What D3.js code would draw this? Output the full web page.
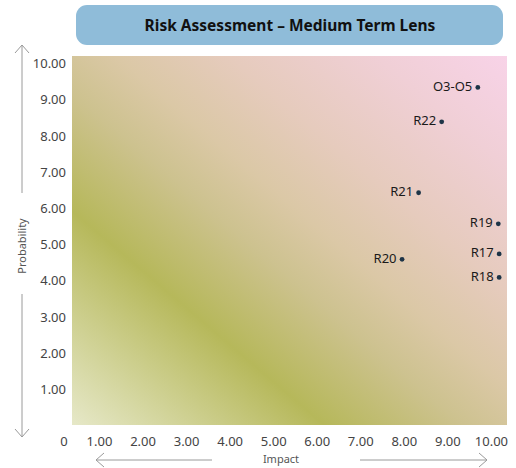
<!DOCTYPE html>
<html><head><meta charset="utf-8">
<script src="https://cdn.jsdelivr.net/npm/d3@7/dist/d3.min.js"></script>
<style>body{margin:0;background:#fff}svg{display:block}</style>
</head><body>
<script>
const labels = ["O3-O5","R22","R21","R19","R17","R18","R20"];
const impact = [9.70, 8.87, 8.34, 10.17, 10.19, 10.19, 7.96];
const probability = [9.33, 8.38, 6.42, 5.56, 4.73, 4.08, 4.58];
const tickValues = [1,2,3,4,5,6,7,8,9,10];
const title = "Risk Assessment \u2013 Medium Term Lens";

const W = 516, H = 468;
const svg = d3.select("body").append("svg").attr("width", W).attr("height", H);
const font = "'Noto Sans', 'Open Sans', sans-serif";
const L = 72, R = 507, T = 56, B = 425;

const x = d3.scaleLinear().domain([0.38, 10.37]).range([L, R]);
const y = d3.scaleLinear().domain([0, 10.2]).range([B, T]);

const defs = svg.append("defs");
const g = defs.append("linearGradient").attr("id","bg")
  .attr("x1",0).attr("y1",1).attr("x2",1).attr("y2",0);
[[0,"#e6e8c8"],[0.29,"#b6b85a"],[0.45,"#cdc28f"],[0.55,"#dbc8a6"],[0.68,"#e6cbbd"],[0.85,"#f0cfd6"],[1,"#f8d3e8"]]
  .forEach(([o,c]) => g.append("stop").attr("offset",o).attr("stop-color",c));

// title box
svg.append("rect").attr("x",76).attr("y",5).attr("width",427).attr("height",40)
  .attr("rx",11).attr("fill","#8fbcd9");
svg.append("text").attr("x",290).attr("y",31).attr("text-anchor","middle")
  .attr("font-family",font).attr("font-weight","bold").attr("font-size",15.5)
  .attr("fill","#111").text(title);

// plot background
svg.append("rect").attr("x",L).attr("y",T).attr("width",R-L).attr("height",B-T)
  .attr("fill","url(#bg)");

// axes
const xAxis = d3.axisBottom(x).tickValues(tickValues).tickFormat(d3.format(".2f")).tickSize(0).tickPadding(0);
const xg = svg.append("g").attr("transform",`translate(0,${B+21})`).call(xAxis);
xg.select(".domain").remove();
xg.selectAll("text").attr("font-family",font).attr("font-size",13).attr("fill","#444").attr("dy",0);

const yAxis = d3.axisLeft(y).tickValues(tickValues).tickFormat(d3.format(".2f")).tickSize(0).tickPadding(0);
const yg = svg.append("g").attr("transform",`translate(66,0)`).call(yAxis);
yg.select(".domain").remove();
yg.selectAll("text").attr("font-family",font).attr("font-size",13).attr("fill","#444").attr("dy","0.35em");

svg.append("text").attr("x",64).attr("y",446).attr("text-anchor","middle")
  .attr("font-family",font).attr("font-size",13).attr("fill","#444").text("0");

// arrows
const ac = "#9a9a9a";
const line = (x1,y1,x2,y2) => svg.append("line").attr("x1",x1).attr("y1",y1).attr("x2",x2).attr("y2",y2)
  .attr("stroke",ac).attr("stroke-width",1);
const path = d => svg.append("path").attr("d",d).attr("fill","none").attr("stroke",ac).attr("stroke-width",1);
line(22,45,22,193); path("M15,53 L22,45 L29,53");
line(22,294,22,437); path("M15,429 L22,437 L29,429");
line(96,460,212,460); path("M104,453 L96,460 L104,467");
line(360,460,487,460); path("M479,453 L487,460 L479,467");

svg.append("text").attr("transform","translate(26,246) rotate(-90)").attr("text-anchor","middle")
  .attr("font-family",font).attr("font-size",11).attr("fill","#555").text("Probability");
svg.append("text").attr("x",281).attr("y",463).attr("text-anchor","middle")
  .attr("font-family",font).attr("font-size",11).attr("fill","#555").text("Impact");

// points
const pts = labels.map((l,i) => ({l, xv: impact[i], yv: probability[i]}));
const pg = svg.append("g");
pg.selectAll("circle").data(pts).join("circle")
  .attr("cx",d=>x(d.xv)).attr("cy",d=>y(d.yv)).attr("r",2.4).attr("fill","#1d3447");
pg.selectAll("text").data(pts).join("text")
  .attr("x",d=>x(d.xv)-5.5).attr("y",d=>y(d.yv)+3.5).attr("text-anchor","end")
  .attr("font-family",font).attr("font-size",13).attr("fill","#1a1a1a").text(d=>d.l);
</script>
</body></html>
